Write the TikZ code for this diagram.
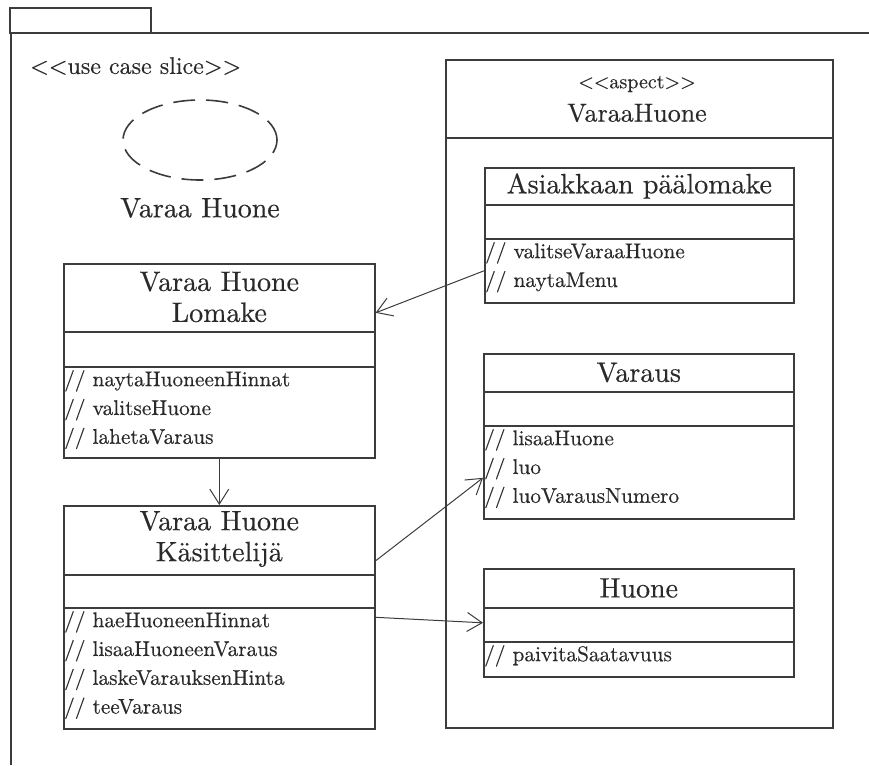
\documentclass[tikz,border=0pt]{standalone}
\usepackage{fontspec}
\usepackage{tikz}
\usetikzlibrary{arrows.meta,calc,positioning,shapes.geometric}
\setmainfont{lmroman10-regular.otf}[FakeBold=0.4]
\definecolor{linegray}{HTML}{3C3C3C}
\definecolor{textgray}{HTML}{2A2A2A}
\tikzset{
  classbox/.style  = {draw=linegray, line width=1.6pt, anchor=north west, inner sep=0pt},
  divider/.style   = {draw=linegray, line width=1.6pt},
  titletext/.style = {font=\fontsize{28}{31}\selectfont, align=center, text=textgray, inner sep=0pt},
  optext/.style    = {font=\fontsize{21.3}{28.8}\selectfont, align=left, anchor=north west,
                      inner sep=1pt, text=textgray},
  stereo/.style    = {font=\fontsize{20}{24}\selectfont, text=textgray, inner sep=0pt},
  depend/.style    = {-{Straight Barb[length=15pt,width=19pt]}, line width=1pt, draw=linegray},
}

\begin{document}
\begin{tikzpicture}[x=1pt,y=-1pt]
  \useasboundingbox (0,0) rectangle (869,765);
  % package frame
  \draw[divider] (10,8) rectangle (151,33);
  \draw[divider] (869,33) -- (11,33) -- (11,765);
  \node[stereo, font=\fontsize{24}{28}\selectfont, anchor=west] (slice) at (30,66)
    {{<}{<}use case slice{>}{>}};
  \node[draw=linegray, line width=1.6pt, dash pattern=on 22pt off 11pt, ellipse,
        minimum width=154pt, minimum height=80pt] (usecase) at (200,140) {};
  \node[titletext] (usecaselabel) at (200,208) {Varaa Huone};

  % aspect
  \node[classbox, line width=2.2pt, minimum width=387pt, minimum height=668pt] (aspect) at (445,59) {};
  \draw[divider, line width=2.2pt] ([yshift=-79pt]aspect.north west) -- ([yshift=-79pt]aspect.north east);
  \node[stereo] (aspectstereo) at (637,84) {{<}{<}aspect{>}{>}};
  \node[titletext, font=\fontsize{26}{30}\selectfont] (aspectname) at (637,113) {VaraaHuone};

  % Asiakkaan paalomake
  \node[classbox, minimum width=309pt, minimum height=135pt] (asiakas) at (484,167) {};
  \draw[divider] ([yshift=-38pt]asiakas.north west) -- ([yshift=-38pt]asiakas.north east);
  \draw[divider] ([yshift=-72pt]asiakas.north west) -- ([yshift=-72pt]asiakas.north east);
  \node[titletext] (asiakastitle) at ([yshift=-19pt]asiakas.north) {Asiakkaan päälomake};
  \node[optext] (asiakasops) at ([yshift=-74pt]asiakas.north west)
    {// valitseVaraaHuone\\// naytaMenu};

  % Varaus
  \node[classbox, minimum width=310pt, minimum height=165pt] (varaus) at (483,353) {};
  \draw[divider] ([yshift=-39pt]varaus.north west) -- ([yshift=-39pt]varaus.north east);
  \draw[divider] ([yshift=-73pt]varaus.north west) -- ([yshift=-73pt]varaus.north east);
  \node[titletext] (varaustitle) at ([yshift=-19.5pt]varaus.north) {Varaus};
  \node[optext] (varausops) at ([yshift=-75pt]varaus.north west)
    {// lisaaHuone\\// luo\\// luoVarausNumero};

  % Huone
  \node[classbox, minimum width=310pt, minimum height=108pt] (huone) at (483,568) {};
  \draw[divider] ([yshift=-40pt]huone.north west) -- ([yshift=-40pt]huone.north east);
  \draw[divider] ([yshift=-74pt]huone.north west) -- ([yshift=-74pt]huone.north east);
  \node[titletext] (huonetitle) at ([yshift=-20pt]huone.north) {Huone};
  \node[optext] (huoneops) at ([yshift=-76pt]huone.north west) {// paivitaSaatavuus};

  % Varaa Huone Lomake
  \node[classbox, minimum width=311pt, minimum height=194pt] (lomake) at (63,263) {};
  \draw[divider] ([yshift=-69pt]lomake.north west) -- ([yshift=-69pt]lomake.north east);
  \draw[divider] ([yshift=-104pt]lomake.north west) -- ([yshift=-104pt]lomake.north east);
  \node[titletext] (lomaketitle) at ([yshift=-34pt]lomake.north) {Varaa Huone\\Lomake};
  \node[optext] (lomakeops) at ([yshift=-106pt]lomake.north west)
    {// naytaHuoneenHinnat\\// valitseHuone\\// lahetaVaraus};

  % Varaa Huone Kasittelija
  \node[classbox, minimum width=311pt, minimum height=223pt] (kasittelija) at (63,505) {};
  \draw[divider] ([yshift=-70pt]kasittelija.north west) -- ([yshift=-70pt]kasittelija.north east);
  \draw[divider] ([yshift=-103pt]kasittelija.north west) -- ([yshift=-103pt]kasittelija.north east);
  \node[titletext] (kasittelijatitle) at ([yshift=-34pt]kasittelija.north) {Varaa Huone\\Käsittelijä};
  \node[optext] (kasittelijaops) at ([yshift=-105pt]kasittelija.north west)
    {// haeHuoneenHinnat\\// lisaaHuoneenVaraus\\// laskeVarauksenHinta\\// teeVaraus};

  % dependencies
  \draw[depend] ([yshift=-35.5pt]asiakas.west) -- ([yshift=48pt]lomake.east);
  \draw[depend] (lomake.south) -- (kasittelija.north);
  \draw[depend] ([yshift=56.5pt]kasittelija.east) -- ([yshift=-41.5pt]varaus.west);
  \draw[depend] (kasittelija.east) -- (huone.west);
\end{tikzpicture}
\end{document}
